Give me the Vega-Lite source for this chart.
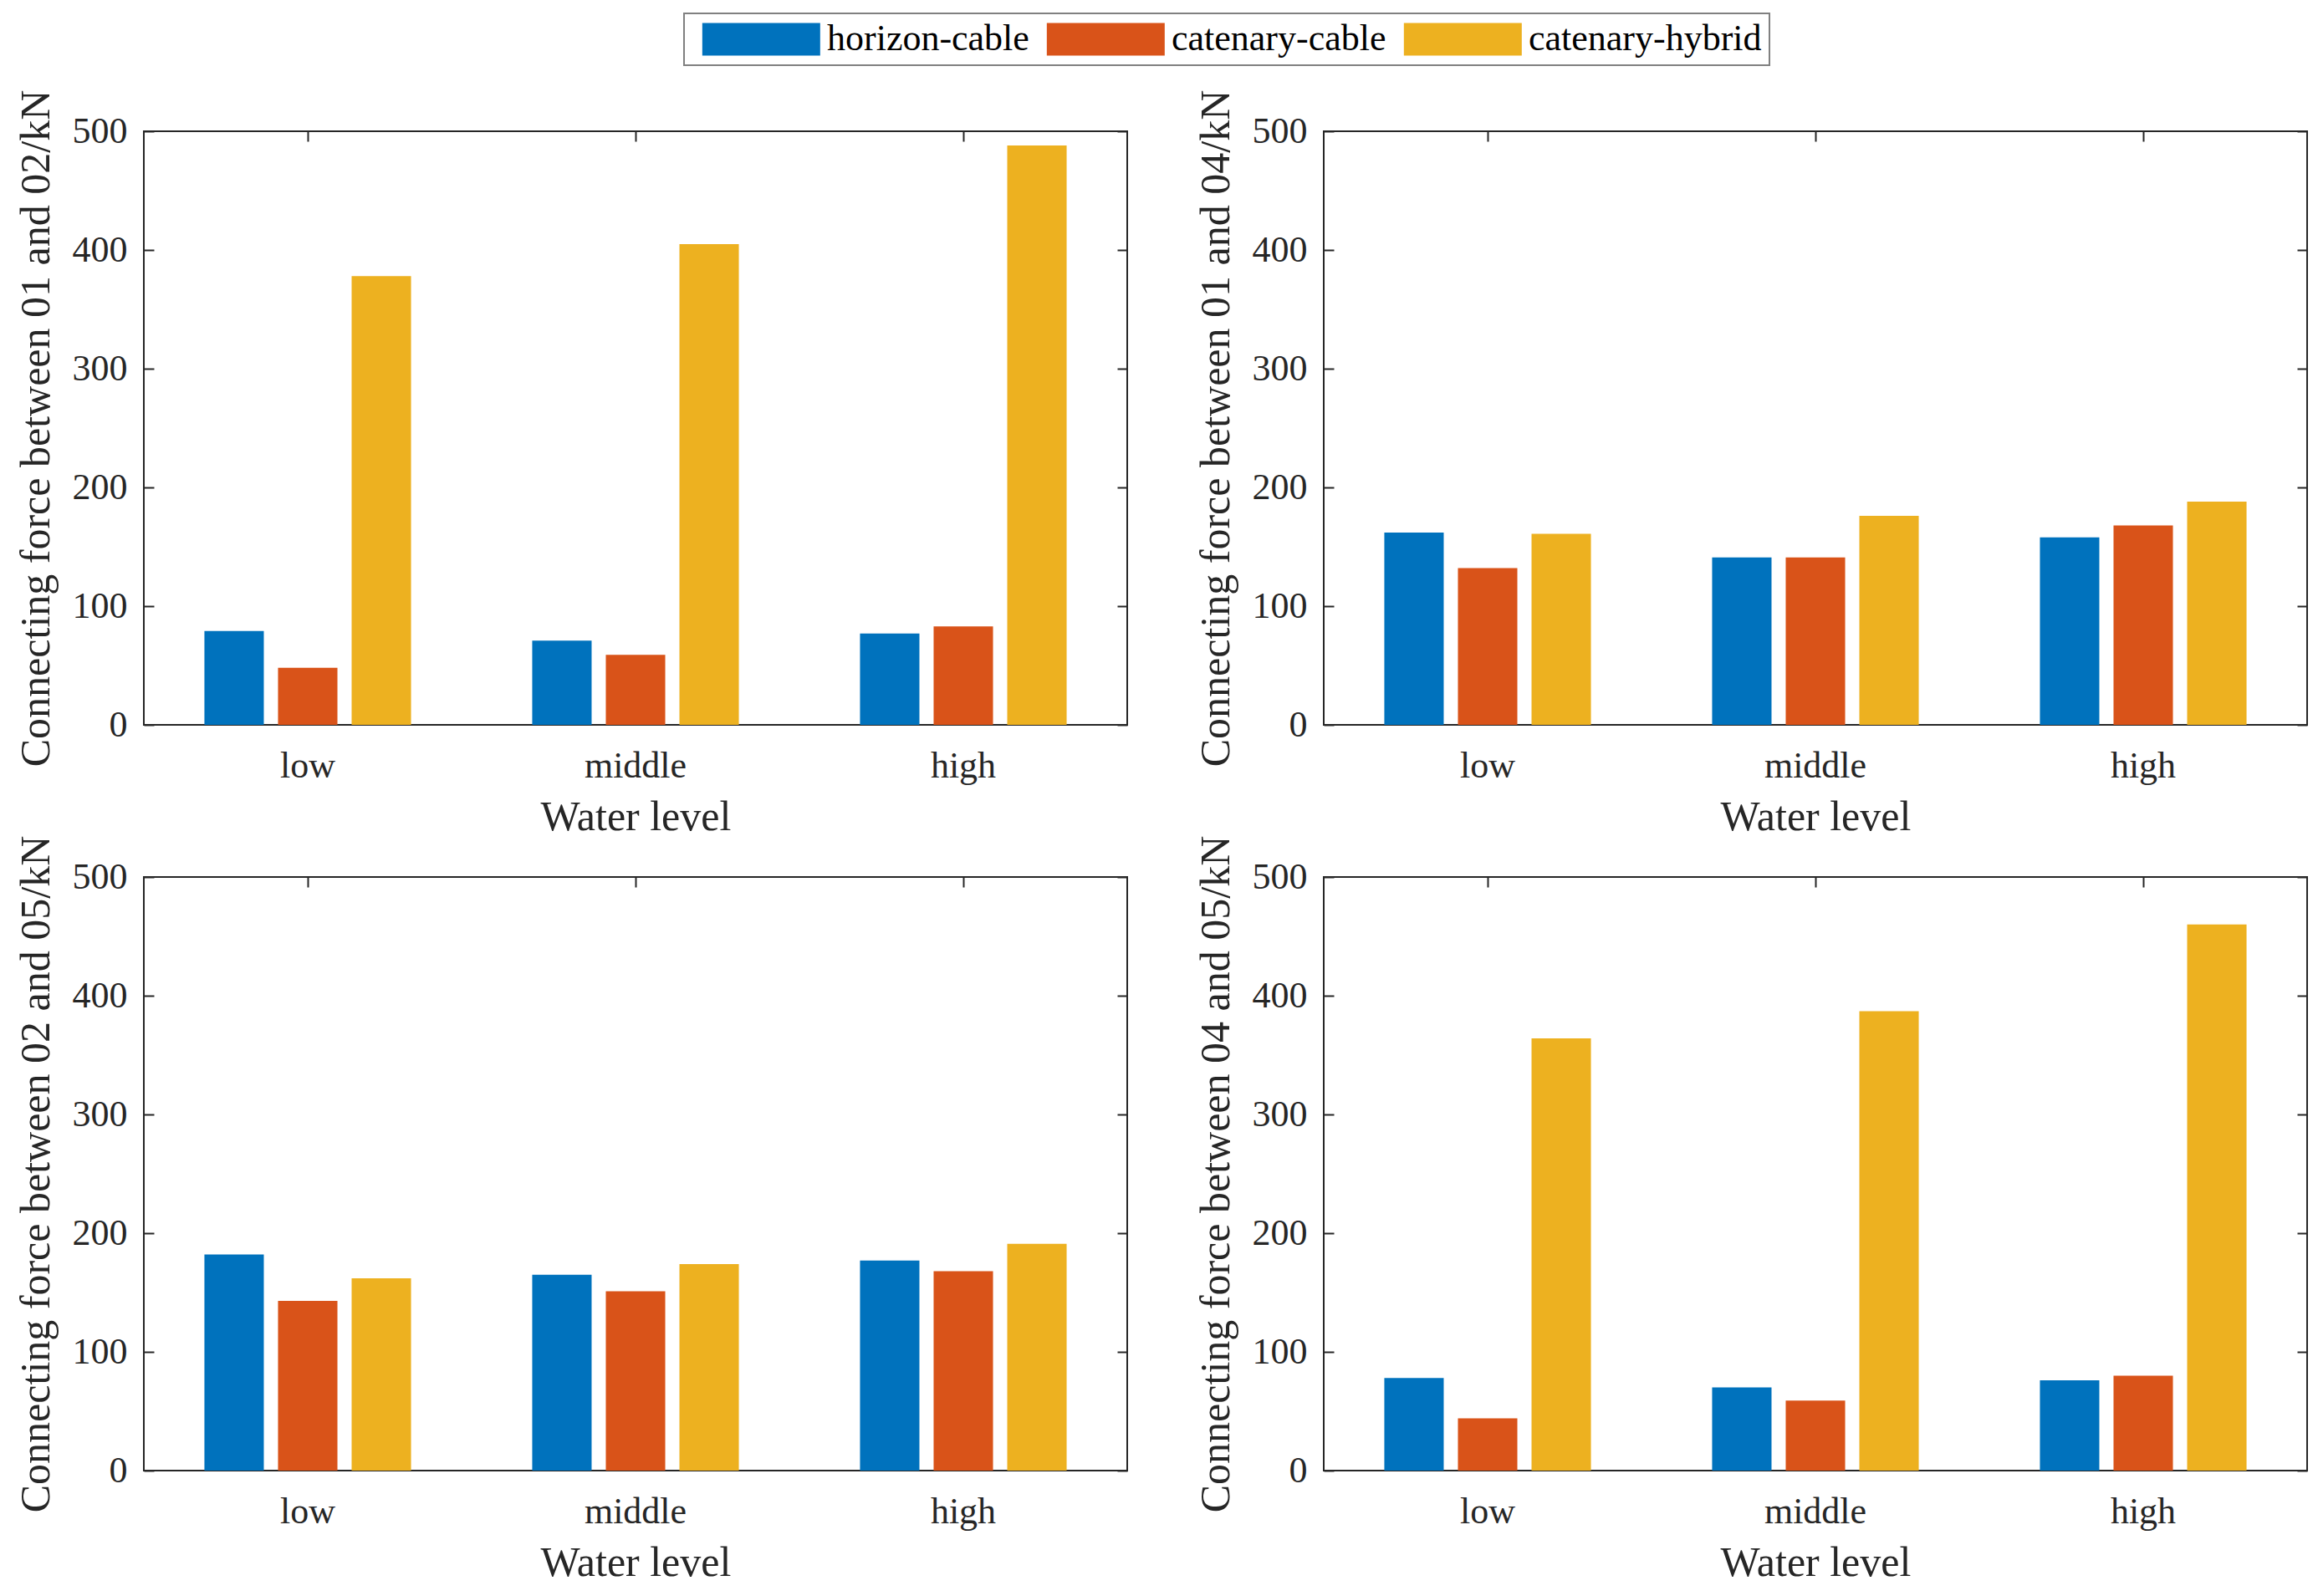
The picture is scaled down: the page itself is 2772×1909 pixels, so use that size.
{
  "$schema": "https://vega.github.io/schema/vega-lite/v6.json",
  "background": "white",
  "padding": {"left": 17, "top": 15, "right": 5, "bottom": 5},
  "data": {"values": [
    {"panel": "p1", "level": "low", "series": "horizon-cable", "value": 79},
    {"panel": "p1", "level": "low", "series": "catenary-cable", "value": 48},
    {"panel": "p1", "level": "low", "series": "catenary-hybrid", "value": 378},
    {"panel": "p1", "level": "middle", "series": "horizon-cable", "value": 71},
    {"panel": "p1", "level": "middle", "series": "catenary-cable", "value": 59},
    {"panel": "p1", "level": "middle", "series": "catenary-hybrid", "value": 405},
    {"panel": "p1", "level": "high", "series": "horizon-cable", "value": 77},
    {"panel": "p1", "level": "high", "series": "catenary-cable", "value": 83},
    {"panel": "p1", "level": "high", "series": "catenary-hybrid", "value": 488},
    {"panel": "p2", "level": "low", "series": "horizon-cable", "value": 162},
    {"panel": "p2", "level": "low", "series": "catenary-cable", "value": 132},
    {"panel": "p2", "level": "low", "series": "catenary-hybrid", "value": 161},
    {"panel": "p2", "level": "middle", "series": "horizon-cable", "value": 141},
    {"panel": "p2", "level": "middle", "series": "catenary-cable", "value": 141},
    {"panel": "p2", "level": "middle", "series": "catenary-hybrid", "value": 176},
    {"panel": "p2", "level": "high", "series": "horizon-cable", "value": 158},
    {"panel": "p2", "level": "high", "series": "catenary-cable", "value": 168},
    {"panel": "p2", "level": "high", "series": "catenary-hybrid", "value": 188},
    {"panel": "p3", "level": "low", "series": "horizon-cable", "value": 182},
    {"panel": "p3", "level": "low", "series": "catenary-cable", "value": 143},
    {"panel": "p3", "level": "low", "series": "catenary-hybrid", "value": 162},
    {"panel": "p3", "level": "middle", "series": "horizon-cable", "value": 165},
    {"panel": "p3", "level": "middle", "series": "catenary-cable", "value": 151},
    {"panel": "p3", "level": "middle", "series": "catenary-hybrid", "value": 174},
    {"panel": "p3", "level": "high", "series": "horizon-cable", "value": 177},
    {"panel": "p3", "level": "high", "series": "catenary-cable", "value": 168},
    {"panel": "p3", "level": "high", "series": "catenary-hybrid", "value": 191},
    {"panel": "p4", "level": "low", "series": "horizon-cable", "value": 78},
    {"panel": "p4", "level": "low", "series": "catenary-cable", "value": 44},
    {"panel": "p4", "level": "low", "series": "catenary-hybrid", "value": 364},
    {"panel": "p4", "level": "middle", "series": "horizon-cable", "value": 70},
    {"panel": "p4", "level": "middle", "series": "catenary-cable", "value": 59},
    {"panel": "p4", "level": "middle", "series": "catenary-hybrid", "value": 387},
    {"panel": "p4", "level": "high", "series": "horizon-cable", "value": 76},
    {"panel": "p4", "level": "high", "series": "catenary-cable", "value": 80},
    {"panel": "p4", "level": "high", "series": "catenary-hybrid", "value": 460}
  ]},
  "columns": 2,
  "bounds": "flush",
  "spacing": {"row": 182, "column": 235},
  "resolve": {"scale": {"color": "shared"}, "legend": {"color": "shared"}},
  "concat": [
    {
      "width": 1176, "height": 710,
      "transform": [{"filter": "datum.panel === 'p1'"}],
      "layer": [
        {"mark": {"type": "bar"},
         "encoding": {
           "x": {"field": "level", "type": "nominal", "sort": ["low", "middle", "high"], "scale": {"paddingInner": 0, "paddingOuter": 0}, "title": "Water level"},
           "xOffset": {"field": "series", "type": "nominal", "sort": ["horizon-cable", "catenary-cable", "catenary-hybrid"], "scale": {"paddingInner": 0.193, "paddingOuter": 0.823}},
           "y": {"field": "value", "type": "quantitative", "stack": null, "scale": {"domain": [0, 500]}, "axis": {"values": [0, 100, 200, 300, 400, 500]}, "title": "Connecting force between 01 and 02/kN"},
           "color": {"field": "series", "type": "nominal", "sort": ["horizon-cable", "catenary-cable", "catenary-hybrid"], "scale": {"domain": ["horizon-cable", "catenary-cable", "catenary-hybrid"], "range": ["#0072BD", "#D95319", "#EDB120"]},
             "legend": {"orient": "none", "legendX": 646, "legendY": -141, "direction": "horizontal", "title": null}}
         }},
        {"mark": {"type": "bar", "opacity": 0},
         "encoding": {
           "x": {"field": "level", "type": "nominal", "sort": ["low", "middle", "high"], "axis": {"orient": "top", "labels": false, "title": null}},
           "y": {"field": "value", "type": "quantitative", "stack": null, "axis": {"orient": "right", "labels": false, "title": null, "values": [0, 100, 200, 300, 400, 500]}}
         }}
      ],
      "resolve": {"axis": {"x": "independent", "y": "independent"}}
    },
    {
      "width": 1176, "height": 710,
      "transform": [{"filter": "datum.panel === 'p2'"}],
      "layer": [
        {"mark": {"type": "bar"},
         "encoding": {
           "x": {"field": "level", "type": "nominal", "sort": ["low", "middle", "high"], "scale": {"paddingInner": 0, "paddingOuter": 0}, "title": "Water level"},
           "xOffset": {"field": "series", "type": "nominal", "sort": ["horizon-cable", "catenary-cable", "catenary-hybrid"], "scale": {"paddingInner": 0.193, "paddingOuter": 0.823}},
           "y": {"field": "value", "type": "quantitative", "stack": null, "scale": {"domain": [0, 500]}, "axis": {"values": [0, 100, 200, 300, 400, 500]}, "title": "Connecting force between 01 and 04/kN"},
           "color": {"field": "series", "type": "nominal", "sort": ["horizon-cable", "catenary-cable", "catenary-hybrid"], "legend": null}
         }},
        {"mark": {"type": "bar", "opacity": 0},
         "encoding": {
           "x": {"field": "level", "type": "nominal", "sort": ["low", "middle", "high"], "axis": {"orient": "top", "labels": false, "title": null}},
           "y": {"field": "value", "type": "quantitative", "stack": null, "axis": {"orient": "right", "labels": false, "title": null, "values": [0, 100, 200, 300, 400, 500]}}
         }}
      ],
      "resolve": {"axis": {"x": "independent", "y": "independent"}}
    },
    {
      "width": 1176, "height": 710,
      "transform": [{"filter": "datum.panel === 'p3'"}],
      "layer": [
        {"mark": {"type": "bar"},
         "encoding": {
           "x": {"field": "level", "type": "nominal", "sort": ["low", "middle", "high"], "scale": {"paddingInner": 0, "paddingOuter": 0}, "title": "Water level"},
           "xOffset": {"field": "series", "type": "nominal", "sort": ["horizon-cable", "catenary-cable", "catenary-hybrid"], "scale": {"paddingInner": 0.193, "paddingOuter": 0.823}},
           "y": {"field": "value", "type": "quantitative", "stack": null, "scale": {"domain": [0, 500]}, "axis": {"values": [0, 100, 200, 300, 400, 500]}, "title": "Connecting force between 02 and 05/kN"},
           "color": {"field": "series", "type": "nominal", "sort": ["horizon-cable", "catenary-cable", "catenary-hybrid"], "legend": null}
         }},
        {"mark": {"type": "bar", "opacity": 0},
         "encoding": {
           "x": {"field": "level", "type": "nominal", "sort": ["low", "middle", "high"], "axis": {"orient": "top", "labels": false, "title": null}},
           "y": {"field": "value", "type": "quantitative", "stack": null, "axis": {"orient": "right", "labels": false, "title": null, "values": [0, 100, 200, 300, 400, 500]}}
         }}
      ],
      "resolve": {"axis": {"x": "independent", "y": "independent"}}
    },
    {
      "width": 1176, "height": 710,
      "transform": [{"filter": "datum.panel === 'p4'"}],
      "layer": [
        {"mark": {"type": "bar"},
         "encoding": {
           "x": {"field": "level", "type": "nominal", "sort": ["low", "middle", "high"], "scale": {"paddingInner": 0, "paddingOuter": 0}, "title": "Water level"},
           "xOffset": {"field": "series", "type": "nominal", "sort": ["horizon-cable", "catenary-cable", "catenary-hybrid"], "scale": {"paddingInner": 0.193, "paddingOuter": 0.823}},
           "y": {"field": "value", "type": "quantitative", "stack": null, "scale": {"domain": [0, 500]}, "axis": {"values": [0, 100, 200, 300, 400, 500]}, "title": "Connecting force between 04 and 05/kN"},
           "color": {"field": "series", "type": "nominal", "sort": ["horizon-cable", "catenary-cable", "catenary-hybrid"], "legend": null}
         }},
        {"mark": {"type": "bar", "opacity": 0},
         "encoding": {
           "x": {"field": "level", "type": "nominal", "sort": ["low", "middle", "high"], "axis": {"orient": "top", "labels": false, "title": null}},
           "y": {"field": "value", "type": "quantitative", "stack": null, "axis": {"orient": "right", "labels": false, "title": null, "values": [0, 100, 200, 300, 400, 500]}}
         }}
      ],
      "resolve": {"axis": {"x": "independent", "y": "independent"}}
    }
  ],
  "config": {
    "font": "Liberation Serif",
    "view": {"stroke": "#262626", "strokeWidth": 2},
    "axis": {
      "labelFont": "Liberation Serif", "titleFont": "Liberation Serif",
      "labelFontSize": 44, "titleFontSize": 50, "titleFontWeight": "normal",
      "labelColor": "#262626", "titleColor": "#262626",
      "domain": false, "grid": false,
      "tickColor": "#262626", "tickWidth": 2, "tickSize": -12, "zindex": 1
    },
    "axisX": {"labelAngle": 0, "labelPadding": 39, "titlePadding": 14},
    "axisY": {"labelPadding": 32, "titlePadding": 18},
    "legend": {
      "labelFont": "Liberation Serif", "labelFontSize": 44, "labelColor": "#000000", "labelLimit": 2000,
      "symbolType": "M-0.65,-1.383H9.35V1.383H-0.65Z", "symbolSize": 795, "symbolStrokeWidth": 0, "symbolOpacity": 1,
      "labelOffset": 118, "columnPadding": 8, "padding": 9,
      "strokeColor": "#808080", "strokeWidth": 2, "fillColor": "white"
    }
  }
}
